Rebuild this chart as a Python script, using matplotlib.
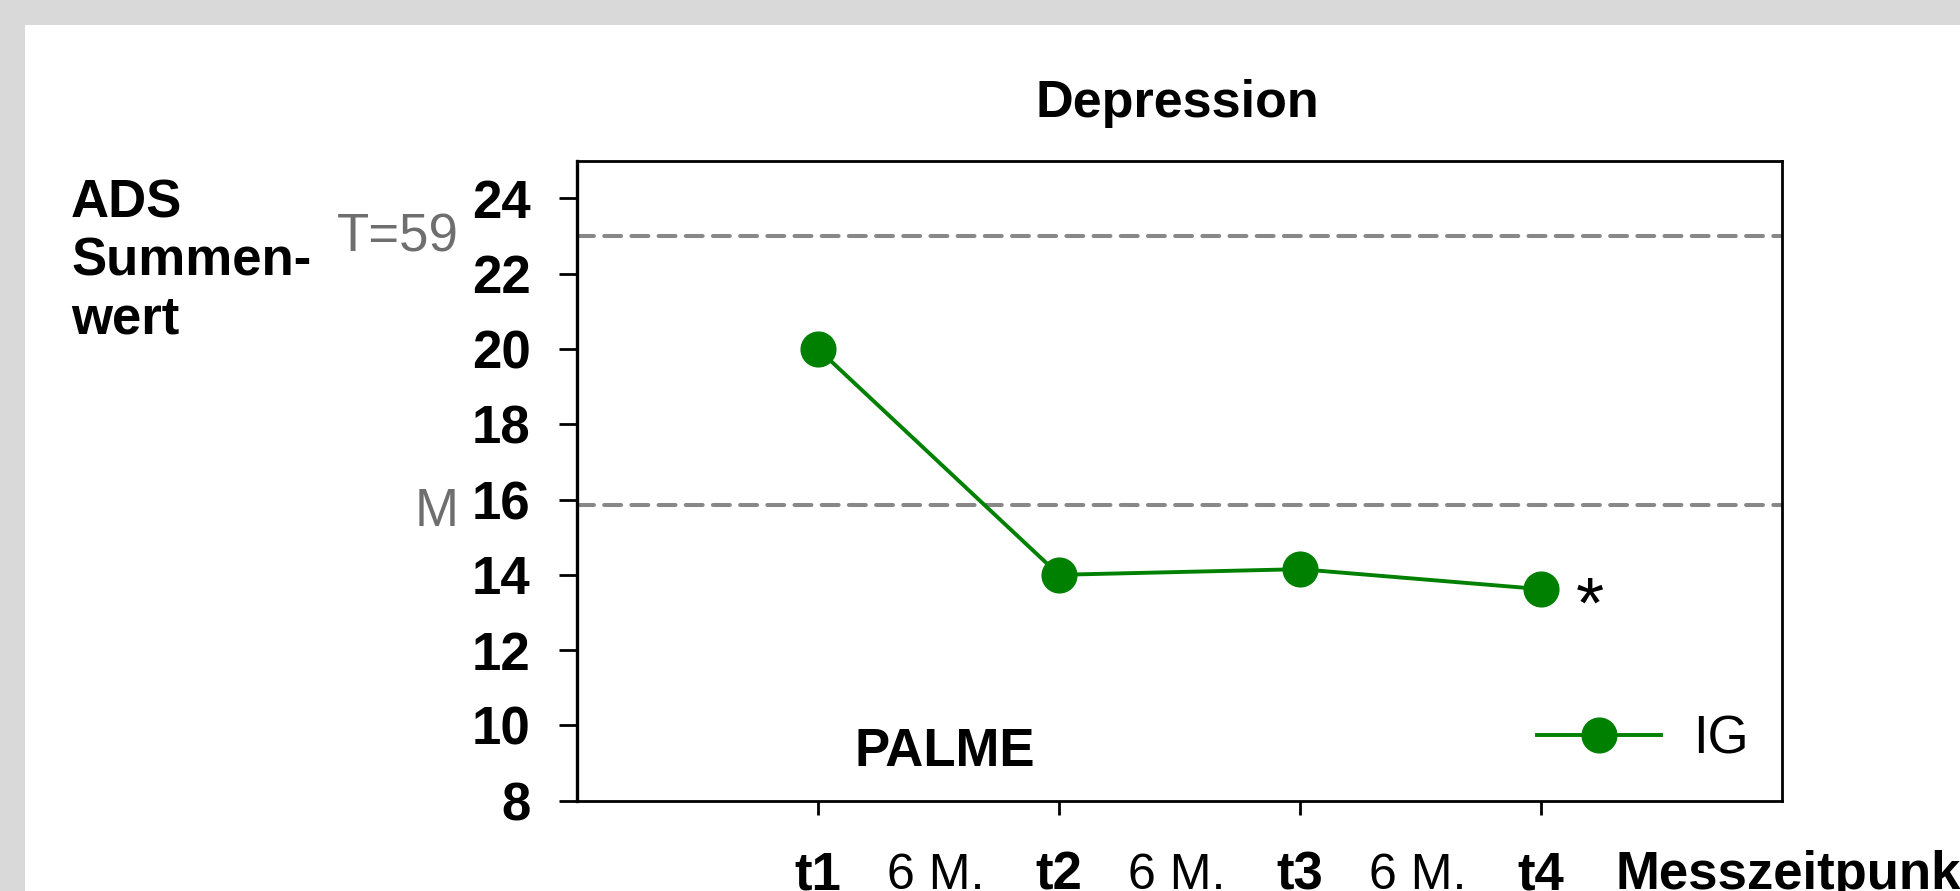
import numpy as np
import matplotlib.pyplot as plt
import matplotlib.transforms as mtransforms
from matplotlib.patches import Rectangle

plt.rcParams['font.family'] = ['Liberation Sans', 'DejaVu Sans']

# Werte
zeitpunkte = ['t1', 't2', 't3', 't4']
abstand = '6 M.'
ig_werte = [20.0, 14.0, 14.15, 13.62]
t59_grenze = 23.0
mittelwert = 15.85
y_ticks = [8, 10, 12, 14, 16, 18, 20, 22, 24]

W, H = 1960, 891
x = np.arange(1, len(zeitpunkte) + 1)

fig = plt.figure(figsize=(W / 100, H / 100), dpi=100, facecolor='#d9d9d9')
fig.patches.append(Rectangle((25 / W, 0), 1, 1 - 25 / H, transform=fig.transFigure,
                             facecolor='white', edgecolor='none', zorder=-1))

ax = fig.add_axes([577 / W, 1 - 800.7 / H, 1205 / W, 640 / H])
ax.set_xlim(0, 5)
ax.set_ylim(8, 25)

# Referenzlinien
for wert in (t59_grenze, mittelwert):
    ax.axhline(wert, color='#888888', lw=2.9, linestyle=(0, (4.2, 2.55)),
               dash_capstyle='round', zorder=1)

ax.plot(x, ig_werte, color='#008000', lw=2.8, marker='o', ms=25, label='IG', zorder=3)

ax.set_yticks(y_ticks)
ax.set_yticklabels([str(v) for v in y_ticks], fontsize=38, fontweight='bold')
ax.tick_params(axis='y', length=13, width=2, pad=20.5)
ax.set_xticks(x)
ax.set_xticklabels([])
ax.tick_params(axis='x', length=10, width=2)
for s in ax.spines.values():
    s.set_linewidth(2)
ax.spines['left'].set_linewidth(2.4)

# x-Beschriftung unterhalb
trans = mtransforms.blended_transform_factory(ax.transData, ax.transAxes)
base_y = (800.7 - 889) / 640
for xi, lab in zip(x, zeitpunkte):
    ax.text(xi, base_y, lab, transform=trans, ha='center', va='baseline',
            fontsize=38, fontweight='bold', clip_on=False)
for xi in x[:-1]:
    ax.text(xi + 0.49, base_y, abstand, transform=trans, ha='center', va='baseline',
            fontsize=36, clip_on=False)
ax.text(4.31, base_y, 'Messzeitpunkt', transform=trans, ha='left', va='baseline',
        fontsize=38, fontweight='bold', clip_on=False)

# Beschriftung der Referenzlinien
trans_y = mtransforms.blended_transform_factory(ax.transAxes, ax.transData)
ax.text(-0.098, t59_grenze - 0.05, 'T=59', transform=trans_y, ha='right', va='center',
        fontsize=38, color='#6e6e6e', clip_on=False)
ax.text(-0.098, mittelwert - 0.19, 'M', transform=trans_y, ha='right', va='center',
        fontsize=38, color='#6e6e6e', clip_on=False)

ax.annotate('*', xy=(x[3], ig_werte[3]), xytext=(35, -14), textcoords='offset points',
            ha='center', va='center', fontsize=52)
ax.text(0.3054, 0.0542, 'PALME', transform=ax.transAxes, ha='center', va='baseline',
        fontsize=38, fontweight='bold')

ax.legend(loc='center left', bbox_to_anchor=(0.797, 0.0964), frameon=False, fontsize=38,
          handlelength=2.35, handletextpad=0.6, borderpad=0, borderaxespad=0)

fig.text(1177 / W, 1 - 117 / H, 'Depression', ha='center', va='baseline',
         fontsize=37.5, fontweight='bold')
# va='baseline' richtet bei mehrzeiligem Text an der letzten Zeile aus
fig.text(71 / W, 1 - 333 / H, 'ADS\nSummen-\nwert', ha='left', va='baseline',
         fontsize=38, fontweight='bold')

fig.savefig('out.png', dpi=100, facecolor=fig.get_facecolor())
